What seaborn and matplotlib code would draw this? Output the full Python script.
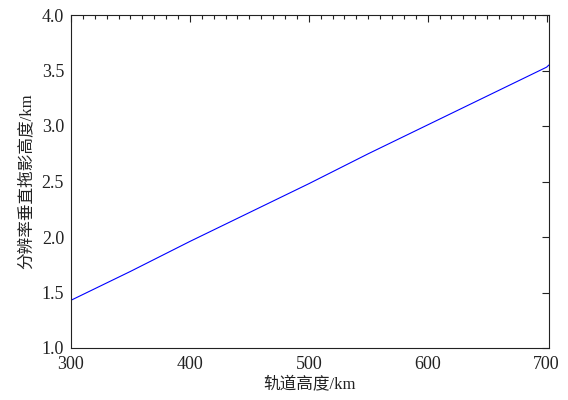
import matplotlib
matplotlib.use('Agg')
import matplotlib.pyplot as plt
from matplotlib.ticker import MultipleLocator
import seaborn as sns
import pandas as pd

# orbit height (km) vs. vertical drag height at resolution (km)
orbit_km = [300, 350, 400, 450, 500, 550, 600, 650, 700, 702]
drag_km = [1.43, 1.69, 1.96, 2.22, 2.48, 2.75, 3.01, 3.27, 3.53, 3.55]

df = pd.DataFrame({'orbit': orbit_km, 'drag': drag_km})

sns.set_style('white')
plt.rcParams['font.family'] = ['Liberation Serif', 'Noto Sans CJK SC']

fig = plt.figure(figsize=(5.68, 4.0), dpi=100)
ax = fig.add_axes([0.125, 0.13, 0.8415, 0.8325])

sns.lineplot(data=df, x='orbit', y='drag', ax=ax, color='#0000ff', linewidth=0.8)

ax.set_xlim(300, 702)
ax.set_ylim(1.0, 4.0)
ax.xaxis.set_major_locator(MultipleLocator(100))
ax.xaxis.set_minor_locator(MultipleLocator(10))
ax.yaxis.set_major_locator(MultipleLocator(0.5))
ax.yaxis.set_major_formatter(matplotlib.ticker.FormatStrFormatter('%.1f'))

ax.tick_params(which='both', direction='in', top=True, right=True, colors='#222222', labelsize=13)
ax.tick_params(axis='x', pad=6)
ax.tick_params(axis='y', pad=5)
ax.tick_params(which='major', length=5, width=0.8)
ax.tick_params(which='minor', length=3, width=0.8)
for s in ax.spines.values():
    s.set_color('#222222')
    s.set_linewidth(0.8)

ax.set_xlabel('轨道高度/km', fontsize=12, color='#222222', labelpad=3)
ax.set_ylabel('分辨率垂直拖影高度/km', fontsize=12, color='#222222', labelpad=5)

plt.savefig('out.png', dpi=100)
plt.close()
